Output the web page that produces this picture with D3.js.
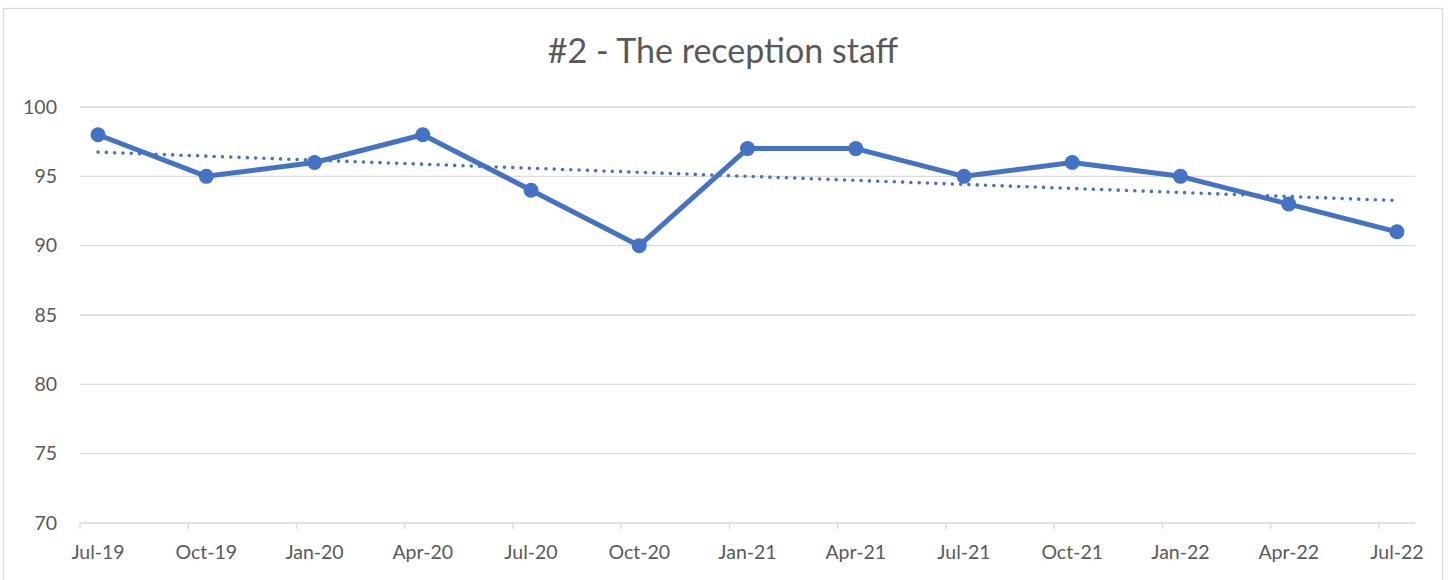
<!DOCTYPE html>
<html>
<head>
<meta charset="utf-8">
<script src="https://cdn.jsdelivr.net/npm/d3@7"></script>
<style>
  body { margin: 0; background: #fff; }
  svg { display: block; font-family: Lato, 'Open Sans', sans-serif; }
</style>
</head>
<body>
<div id="chart"></div>
<script>
const title = '#2 - The reception staff';
const categories = ['Jul-19', 'Oct-19', 'Jan-20', 'Apr-20', 'Jul-20', 'Oct-20', 'Jan-21',
                    'Apr-21', 'Jul-21', 'Oct-21', 'Jan-22', 'Apr-22', 'Jul-22'];
const scores = [98, 95, 96, 98, 94, 90, 97, 97, 95, 96, 95, 93, 91];
const yTicks = [70, 75, 80, 85, 90, 95, 100];

const width = 1450, height = 580;
const margin = { top: 107, right: 35, bottom: 57, left: 80 };
const monthsPerStep = 3;
const totalMonths = (categories.length - 1) * monthsPerStep + 1;

const svg = d3.select('#chart').append('svg')
    .attr('width', width)
    .attr('height', height);

// chart frame
svg.append('rect')
    .attr('x', 3.5).attr('y', 8.5)
    .attr('width', 1439).attr('height', 580)
    .attr('fill', '#fff')
    .attr('stroke', '#d9d9d9')
    .attr('stroke-width', 1.3);

const x = d3.scaleLinear()
    .domain([0, totalMonths])
    .range([margin.left, width - margin.right]);

const y = d3.scaleLinear()
    .domain([70, 100])
    .range([height - margin.bottom, margin.top]);

const px = i => x(i * monthsPerStep + 0.5);

// title
svg.append('text')
    .attr('x', 723).attr('y', 63)
    .attr('text-anchor', 'middle')
    .style('font-size', '34px')
    .style('fill', '#595959')
    .text(title);

// gridlines
svg.append('g')
    .selectAll('line')
    .data(yTicks.slice(1))
    .join('line')
    .attr('x1', x.range()[0]).attr('x2', x.range()[1])
    .attr('y1', d => y(d)).attr('y2', d => y(d))
    .attr('stroke', '#d9d9d9')
    .attr('stroke-width', 1.3);

// y labels
svg.append('g')
    .selectAll('text')
    .data(yTicks)
    .join('text')
    .attr('x', 57).attr('y', d => y(d))
    .attr('dy', '0.35em')
    .attr('text-anchor', 'end')
    .style('font-size', '19.5px')
    .style('fill', '#595959')
    .text(d => d);

// x axis
const xAxis = svg.append('g')
    .attr('transform', `translate(0,${y(70)})`);
xAxis.append('line')
    .attr('x1', x.range()[0]).attr('x2', x.range()[1])
    .attr('stroke', '#d9d9d9').attr('stroke-width', 1.3);
xAxis.selectAll('.tick')
    .data(categories)
    .join('line')
    .attr('class', 'tick')
    .attr('x1', (d, i) => x(i * monthsPerStep)).attr('x2', (d, i) => x(i * monthsPerStep))
    .attr('y1', 0).attr('y2', 6)
    .attr('stroke', '#d9d9d9').attr('stroke-width', 1.3);
xAxis.selectAll('text')
    .data(categories)
    .join('text')
    .attr('x', (d, i) => px(i)).attr('y', 36)
    .attr('text-anchor', 'middle')
    .style('font-size', '19.5px')
    .style('fill', '#595959')
    .text(d => d);

// linear trendline (least squares over the series)
const n = scores.length;
const mx = d3.mean(scores, (d, i) => i);
const my = d3.mean(scores);
const slope = d3.sum(scores, (d, i) => (i - mx) * (d - my)) / d3.sum(scores, (d, i) => (i - mx) ** 2);
const trend = [0, n - 1].map(i => ({ i, v: my + slope * (i - mx) }));

svg.append('path')
    .datum(trend)
    .attr('d', d3.line().x(d => px(d.i)).y(d => y(d.v)))
    .attr('fill', 'none')
    .attr('stroke', '#4472c4')
    .attr('stroke-width', 3.6)
    .attr('stroke-linecap', 'round')
    .attr('stroke-dasharray', '0 8.3');

// series line
svg.append('path')
    .datum(scores)
    .attr('d', d3.line().x((d, i) => px(i)).y(d => y(d)))
    .attr('fill', 'none')
    .attr('stroke', '#4472c4')
    .attr('stroke-width', 5)
    .attr('stroke-linejoin', 'round');

svg.append('g')
    .selectAll('circle')
    .data(scores)
    .join('circle')
    .attr('cx', (d, i) => px(i))
    .attr('cy', d => y(d))
    .attr('r', 7.5)
    .attr('fill', '#4472c4');
</script>
</body>
</html>
